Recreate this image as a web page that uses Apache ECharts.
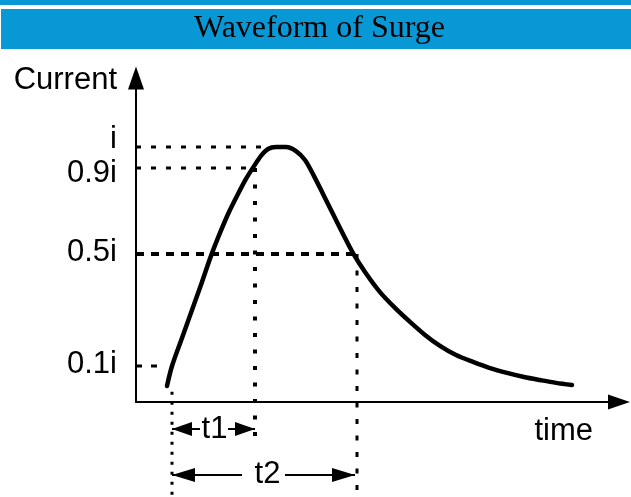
<!DOCTYPE html>
<html><head><meta charset="utf-8">
<script src="https://cdn.jsdelivr.net/npm/echarts@6/dist/echarts.min.js"></script>
<style>html,body{margin:0;padding:0;background:#fff}#c{width:631px;height:497px}</style>
</head><body><div id="c"></div>
<script>
// ---- data (schematic units: current normalised so that i = 1) ----
const titleText = 'Waveform of Surge';
const yName = 'Current';
const xName = 'time';
const levelValues = [1.0, 0.918, 0.58, 0.141];
const levelLabels = ['i', '0.9i', '0.5i', '0.1i'];
const levelEnds = [26.0, 23.8, 43.4, 4.4];
const curveTime = [6.2, 7.2, 9.2, 11.2, 13.2, 15.0, 16.8, 18.6, 20.4, 22.0, 23.6, 25.0, 26.4, 28.0, 30.0,
  32.0, 33.8, 35.6, 37.4, 39.4, 41.4, 43.4, 45.8, 48.8, 51.8, 54.8, 57.8, 60.8, 64.0, 67.4, 70.8, 74.2, 77.6, 80.8, 84.0, 87.2];
const curveCurrent = [0.063, 0.141, 0.251, 0.361, 0.471, 0.573, 0.663, 0.745, 0.816, 0.875, 0.925, 0.965, 0.992, 1.0, 1.0,
  0.984, 0.949, 0.886, 0.816, 0.737, 0.659, 0.584, 0.510, 0.431, 0.369, 0.314, 0.263, 0.220, 0.184, 0.157, 0.133, 0.114, 0.098, 0.086, 0.075, 0.067];
const guideTimes = [7.2, 23.8, 44.2];
const guideTops = [0.04, 0.918, 0.58];
const guideBottoms = [-0.373, -0.157, -0.353];
const spanLabels = ['t1', 't2'];
const spanRows = [-0.106, -0.286];
const spanStarts = [7.2, 7.2];
const spanEnds = [23.8, 43.8];
const spanLabelTimes = [15.7, 26.3];
const spanShaftLeftEnds = [12.8, 21.2];
const spanShaftRightStarts = [18.4, 29.8];

// ---- styles ----
const BLUE = '#0998d6';
const SANS = 'Liberation Sans';
const levelStyles = [
  {width: 3, type: [5, 10]},
  {width: 3, type: [5, 10]},
  {width: 4, type: [8, 7]},
  {width: 3, type: [6, 9]}
];
const guideStyles = [
  {width: 3, type: [3, 7]},
  {width: 4, type: [4, 12.5]},
  {width: 3, type: [5, 11.5]}
];
const labelShift = [
  [0, 0, 16, 0],
  [12, 0, 0, 0],
  [0, 0, 4, 0],
  [0, 0, 4, 0]
];
const headSizes = [[14, 20], [14, 23]];

const chart = echarts.init(document.getElementById('c'), null, {renderer: 'canvas'});
const series = [];
levelValues.forEach((v, i) => {
  series.push({
    type: 'line', silent: true, clip: false, symbol: 'none', showSymbol: false,
    data: [[0, v], [levelEnds[i], v]],
    lineStyle: Object.assign({color: '#000', cap: 'butt'}, levelStyles[i]),
    z: 2
  });
});
guideTimes.forEach((t, i) => {
  series.push({
    type: 'line', silent: true, clip: false, symbol: 'none', showSymbol: false,
    data: [[t, guideTops[i]], [t, guideBottoms[i]]],
    lineStyle: Object.assign({color: '#000', cap: 'butt'}, guideStyles[i]),
    z: 2
  });
});
spanLabels.forEach((lab, i) => {
  const hs = headSizes[i];
  series.push({
    type: 'line', silent: true, clip: false, showSymbol: true,
    data: [
      {value: [spanStarts[i], spanRows[i]], symbol: 'triangle', symbolSize: hs, symbolRotate: 90, symbolOffset: [hs[1] / 2, 0]},
      {value: [spanShaftLeftEnds[i], spanRows[i]], symbol: 'none'}
    ],
    itemStyle: {color: '#000'},
    lineStyle: {color: '#000', width: 2},
    z: 3
  });
  series.push({
    type: 'line', silent: true, clip: false, showSymbol: true,
    data: [
      {value: [spanShaftRightStarts[i], spanRows[i]], symbol: 'none'},
      {value: [spanEnds[i], spanRows[i]], symbol: 'triangle', symbolSize: hs, symbolRotate: -90, symbolOffset: [-hs[1] / 2, 0]}
    ],
    itemStyle: {color: '#000'},
    lineStyle: {color: '#000', width: 2},
    z: 3
  });
});
series.push({
  type: 'scatter', silent: true, clip: false, symbolSize: 0,
  itemStyle: {color: '#000', opacity: 1},
  data: spanLabels.map((lab, i) => ({name: lab, value: [spanLabelTimes[i], spanRows[i]]})),
  label: {show: true, position: 'inside', formatter: '{b}', color: '#000', opacity: 1, textBorderWidth: 0, fontFamily: SANS, fontSize: 31},
  z: 4
});
series.push({
  type: 'line', silent: true, clip: false, symbol: 'none', showSymbol: false,
  smooth: 0.3,
  data: curveTime.map((t, i) => [t, curveCurrent[i]]),
  lineStyle: {color: '#000', width: 4.5, cap: 'round', join: 'round'},
  z: 5
});

const rich = {};
labelShift.forEach((p, i) => {
  rich['s' + i] = {padding: p, fontFamily: SANS, fontSize: 31, color: '#000'};
});

chart.setOption({
  animation: false,
  backgroundColor: '#fff',
  graphic: [
    {type: 'rect', shape: {x: 0, y: 0, width: 631, height: 5}, style: {fill: BLUE}, z: 0},
    {type: 'rect', shape: {x: 1, y: 9, width: 630, height: 40}, style: {fill: BLUE}, z: 0}
  ],
  title: {
    text: titleText, left: 194, top: 13, padding: 0, z: 10,
    textStyle: {fontFamily: 'Liberation Serif', fontSize: 32, fontWeight: 'normal', color: '#000'}
  },
  grid: {left: 136, top: 78, right: 12, bottom: 95, outerBoundsMode: 'none', containLabel: false},
  xAxis: {
    type: 'value', min: 0, max: 96.6,
    name: xName, nameLocation: 'end', nameGap: -26, nameMoveOverlap: false,
    nameTextStyle: {fontFamily: SANS, fontSize: 31, color: '#000', align: 'right', verticalAlign: 'top', padding: [14, 0, 0, 0]},
    axisLine: {show: true, onZero: false, symbol: ['none', 'triangle'], symbolSize: [15, 22], lineStyle: {color: '#000', width: 2}},
    axisTick: {show: false}, axisLabel: {show: false}, splitLine: {show: false}
  },
  yAxis: {
    type: 'value', min: 0, max: 1.2706,
    name: yName, nameLocation: 'end', nameGap: -2, nameMoveOverlap: false,
    nameTextStyle: {fontFamily: SANS, fontSize: 31, color: '#000', align: 'right', verticalAlign: 'middle', padding: [0, 19, 0, 0]},
    axisLine: {show: true, onZero: false, symbol: ['none', 'triangle'], symbolSize: [16, 23], lineStyle: {color: '#000', width: 2}},
    axisTick: {show: false}, splitLine: {show: false},
    axisLabel: {
      show: true, margin: 19, customValues: levelValues,
      fontFamily: SANS, fontSize: 31, color: '#000', rich: rich,
      formatter: function (v) {
        let k = 0, best = 1e9;
        levelValues.forEach((lv, i) => { const d = Math.abs(lv - v); if (d < best) { best = d; k = i; } });
        return '{s' + k + '|' + levelLabels[k] + '}';
      }
    }
  },
  series: series
});
</script></body></html>
